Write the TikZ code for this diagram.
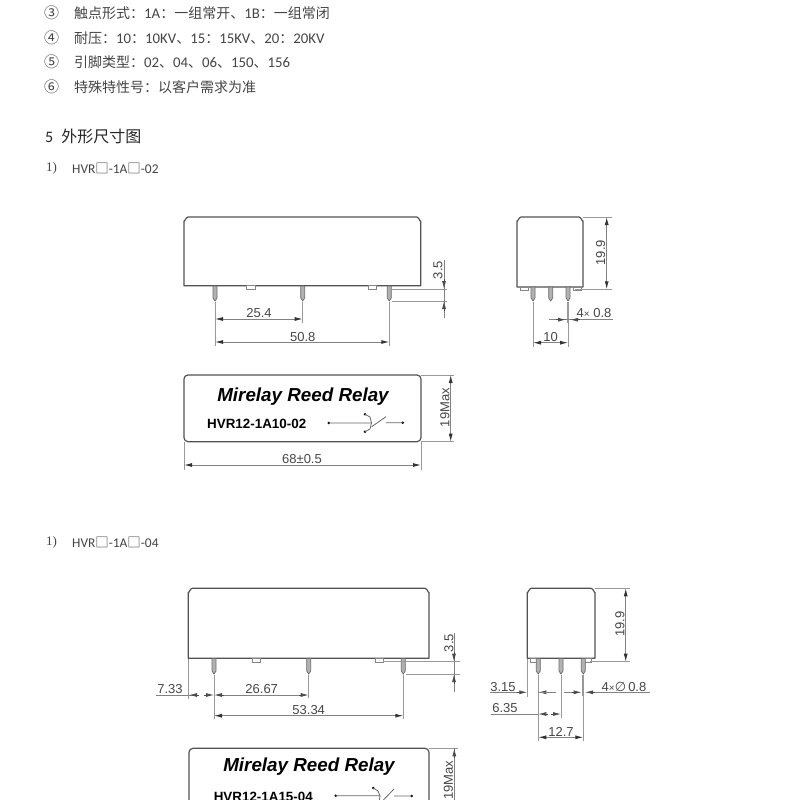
\documentclass[tikz,border=0pt]{standalone}
\usepackage{fontspec}
\setmainfont{Carlito}
\newfontfamily\cjk{Noto Sans CJK SC}
\newfontfamily\arialf{Liberation Sans}
\newfontfamily\serifn{Liberation Serif}
\newfontfamily\dejav{DejaVu Sans}
\newcommand{\lat}[1]{{\normalfont\fontsize{14.8}{16}\selectfont #1}}
\usetikzlibrary{arrows.meta}
\definecolor{txt}{gray}{0.27}
\definecolor{bodyc}{gray}{0.32}
\definecolor{dimc}{gray}{0.6}
\tikzset{
  bodyline/.style={draw=bodyc,line width=1.2pt,line join=round},
  thinbody/.style={draw=bodyc!70,line width=0.8pt},
  extline/.style={draw=dimc,line width=0.9pt},
  dimline/.style={draw=dimc!85!black,line width=0.9pt},
  tipped/.style={draw=black!70,line width=0.8pt,-{Latex[length=8pt,width=4pt]}},
  both tipped/.style={draw=dimc!85!black,line width=0.9pt,{Latex[length=8pt,width=4pt,black!80]}-{Latex[length=8pt,width=4pt,black!80]}},
  dimtext/.style={font=\arialf\fontsize{13}{15}\selectfont,text=black!72,inner sep=0pt},
  listtext/.style={font=\cjk\fontsize{14}{16}\selectfont,text=txt,anchor=west,inner sep=0pt},
  marktext/.style={font=\cjk\fontsize{15}{16}\selectfont,text=txt,inner sep=0pt},
  headtext/.style={font=\cjk\fontsize{16}{18}\selectfont,text=black!85,anchor=west,inner sep=0pt},
  subtext/.style={font=\fontsize{13.4}{15}\selectfont,text=txt,anchor=west,inner sep=0pt},
  titletext/.style={font=\arialf\bfseries\itshape\fontsize{18.8}{20}\selectfont,text=black,inner sep=0pt},
  parttext/.style={font=\arialf\bfseries\fontsize{13.4}{15}\selectfont,text=black,inner sep=0pt},
  symline/.style={draw=black!60,line width=0.8pt},
  symdot/.style={fill=black}
}
\newcommand{\pinat}[3]{%
  \draw[draw=bodyc!85,fill=black!30,line width=0.7pt] (#1-2,#2) -- (#1-2,#3-3) -- (#1,#3) -- (#1+2,#3-3) -- (#1+2,#2) -- cycle;}
\newcommand{\tabat}[3]{%
  \draw[thinbody,fill=white] (#1,#3) rectangle (#2,#3+3.6);}
\newcommand{\relaybody}[4]{%
  \draw[bodyline] (#1,#4) -- (#1,#3+4) to[out=-90,in=180] (#1+4,#3) -- (#2-4,#3) to[out=0,in=-90] (#2,#3+4) -- (#2,#4) -- cycle;}
\begin{document}
\begin{tikzpicture}[x=1pt,y=-1pt]
\useasboundingbox (0,0) rectangle (800,800);
\fill[white] (0,0) rectangle (800,800);
% header list
\node[marktext] (m3) at (51.7,13) {③};
\node[marktext] (m4) at (51.7,38) {④};
\node[marktext] (m5) at (51.7,62) {⑤};
\node[marktext] (m6) at (51.7,87) {⑥};
\node[listtext] (l3) at (74,13) {触点形式：\lat{1A}：一组常开、\lat{1B}：一组常闭};
\node[listtext] (l4) at (74,38) {耐压：\lat{10}：\lat{10KV}、\lat{15}：\lat{15KV}、\lat{20}：\lat{20KV}};
\node[listtext] (l5) at (74,62) {引脚类型：\lat{02}、\lat{04}、\lat{06}、\lat{150}、\lat{156}};
\node[listtext] (l6) at (74,87) {特殊特性号：以客户需求为准};
\node[headtext] (h5) at (45,136) {\normalfont 5\hspace{8pt}\cjk 外形尺寸图};
\node[subtext,font=\serifn\fontsize{13}{15}\selectfont] (n1) at (46,168) {1)};
\node[subtext] (s1) at (72,168) {HVR{\cjk □}-1A{\cjk □}-02};
\node[subtext,font=\serifn\fontsize{13}{15}\selectfont] (n2) at (46,542) {1)};
\node[subtext] (s2) at (72,542) {HVR{\cjk □}-1A{\cjk □}-04};

%% ===== Drawing 1: side view
\relaybody{184}{420.7}{217}{285.7}
\tabat{246.7}{255}{285.7}
\tabat{368}{376}{285.7}
\pinat{215}{286}{301}
\pinat{302.7}{286}{301}
\pinat{389.3}{286}{301}
% 3.5
\draw[extline] (392,289) -- (447,289) (392,301) -- (447,301);
\draw[dimline] (444,260) -- (444,318);
\draw[tipped] (444,279) -- (444,289);
\draw[tipped] (444,311) -- (444,301);
\node[dimtext,rotate=90] (d35a) at (438,270) {3.5};
% 25.4 / 50.8
\draw[extline] (215,302) -- (215,346) (302.7,302) -- (302.7,323) (389.3,302) -- (389.3,346);
\draw[both tipped] (215,319) -- (302.7,319);
\draw[both tipped] (215,342) -- (389.3,342);
\node[dimtext] (d254) at (259,313) {25.4};
\node[dimtext] (d508) at (302.7,336.7) {50.8};

%% ===== Drawing 1: end view
\relaybody{517}{583}{217}{287}
\tabat{520}{528}{287}
\tabat{573}{581}{287}
\pinat{533}{287}{301}
\pinat{550.7}{287}{301}
\pinat{568}{287}{301}
\draw[extline] (583,217) -- (612,217) (575,289.3) -- (612,289.3);
\draw[both tipped] (606.7,217) -- (606.7,289.3);
\node[dimtext] (d199a) [rotate=90] at (600.7,252.7) {19.9};
\draw[extline] (533,302) -- (533,347);
\draw[extline] (568,302) -- (568,347);
\draw[extline,line width=1.6pt] (568,302) -- (568,323);
\draw[dimline] (549,319.7) -- (613,319.7);
\draw[tipped] (556,319.7) -- (566,319.7);
\draw[tipped] (580,319.7) -- (570.2,319.7);
\node[dimtext,fill=white] (d48a) at (594,313.5) {4{\arialf\fontsize{10}{10}\selectfont ×} 0.8};
\draw[both tipped] (533,342.7) -- (568,342.7);
\node[dimtext,fill=white,inner xsep=1pt] (d10) at (550.7,337) {10};

%% ===== Drawing 1: top view
\draw[bodyline,rounded corners=4pt] (184,375) rectangle (421,441.7);
\node[titletext] (t1) at (303,397) {Mirelay Reed Relay};
\node[parttext] (p1) at (256.7,424) {HVR12-1A10-02};
\fill[symdot] (328.7,423) circle (1.4) (365,414.3) circle (1.4) (365,431.7) circle (1.4) (402.7,422.7) circle (1.4);
\draw[symline] (328.7,423) -- (371.5,423) (386,422.7) -- (402.7,422.7) (371.7,426.7) -- (386,416.7);
\draw[symline] (365,414.3) -- (370,417) -- (371.5,423) -- (370,429) -- (365,431.7);
\draw[extline] (421,375) -- (454,375) (421,441.7) -- (454,441.7);
\draw[both tipped] (450.7,375) -- (450.7,441.7);
\node[dimtext] (d19a) [rotate=90] at (445,407.7) {19Max};
\draw[extline] (184,441.7) -- (184,470) (421,441.7) -- (421,470);
\draw[both tipped] (184,465) -- (421,465);
\node[dimtext] (d68) at (302,459) {68±0.5};

%% ===== Drawing 2: side view
\relaybody{188.3}{429}{588.3}{658.3}
\tabat{252}{260}{658.3}
\tabat{375.7}{383.3}{658.3}
\pinat{214}{658.5}{674}
\pinat{308.7}{658.5}{674}
\pinat{403.3}{658.5}{674}
\draw[extline] (383,661.7) -- (460,661.7) (406,674) -- (460,674);
\draw[dimline] (454,633) -- (454,691.7);
\draw[tipped] (454,652) -- (454,661.7);
\draw[tipped] (454,684) -- (454,674);
\node[dimtext] (d35b) [rotate=90] at (449,643) {3.5};
\draw[extline] (188.5,658.5) -- (188.5,699) (214,675) -- (214,719) (308.7,675) -- (308.7,698) (403.3,675) -- (403.3,719);
\draw[dimline] (156,695) -- (199,695);
\draw[tipped] (199,695) -- (189,695);
\draw[tipped] (204,695) -- (214,695);
\draw[tipped] (224,695) -- (214,695);
\draw[dimline] (224,695) -- (300,695);
\draw[tipped] (298.7,695) -- (308.7,695);
\draw[both tipped] (214,715.7) -- (403.3,715.7);
\node[dimtext] (d733) at (170,689) {7.33};
\node[dimtext] (d2667) at (261.7,689) {26.67};
\node[dimtext] (d5334) at (308.7,709.7) {53.34};

%% ===== Drawing 2: end view
\relaybody{527.3}{595}{588.3}{658.3}
\tabat{530.7}{538}{658.3}
\tabat{584}{591.7}{658.3}
\pinat{538.3}{658.5}{674}
\pinat{561}{658.5}{674}
\pinat{583.3}{658.5}{674}
\draw[extline] (595,588.3) -- (630,588.3) (590,661.7) -- (630,661.7);
\draw[both tipped] (625.7,588.3) -- (625.7,661.7);
\node[dimtext] (d199b) [rotate=90] at (620,624.3) {19.9};
\draw[extline] (527.3,658.5) -- (527.3,697) (538.3,675) -- (538.3,740.7) (561,675) -- (561,718) (583.3,675) -- (583.3,740.7);
\draw[extline,line width=2.2pt] (583.3,675) -- (583.3,696);
% row 3.15
\draw[dimline] (490,692.3) -- (518,692.3);
\draw[tipped] (517,692.3) -- (527.3,692.3);
\draw[tipped] (548.3,692.3) -- (538.3,692.3);
\draw[dimline] (538,692.3) -- (556,692.3);
\draw[dimline] (564,692.3) -- (573,692.3);
\draw[tipped] (572,692.3) -- (581.6,692.3);
\draw[tipped] (595,692.3) -- (585,692.3);
\draw[dimline] (595,692.3) -- (650,692.3);
\node[dimtext] (d315) at (503,687) {3.15};
\node[dimtext] (d48b) at (624,686.7) {4{\arialf\fontsize{10}{10}\selectfont ×}{\dejav\fontsize{13}{14}\selectfont ∅}\,0.8};
% row 6.35
\draw[dimline] (490.7,714) -- (538,714);
\draw[tipped] (548.3,714) -- (538.3,714);
\draw[tipped] (551,714) -- (561,714);
\node[dimtext] (d635) at (505,708) {6.35};
\draw[both tipped] (538.3,737.3) -- (583.3,737.3);
\node[dimtext] (d127) at (561,731.7) {12.7};

%% ===== Drawing 2: top view (cut by page edge)
\draw[bodyline,rounded corners=4pt] (189,810) -- (189,748.3) -- (429,748.3) -- (429,810);
\node[titletext] (t2) at (309,766.3) {Mirelay Reed Relay};
\node[parttext] (p2) at (263.3,796.7) {HVR12-1A15-04};
\fill[symdot] (335.7,795.7) circle (1.4) (373.3,788) circle (1.4) (411.7,796) circle (1.4);
\draw[symline] (335.7,795.7) -- (380,795.7) (394,796) -- (411.7,796) (381.7,801.7) -- (394,789);
\draw[symline] (373.3,788) -- (378,791) -- (380,795.7) -- (379,803);
\draw[extline] (429,748.3) -- (458,748.3);
\draw[dimline] (454.3,748.3) -- (454.3,800);
\draw[tipped] (454.3,758) -- (454.3,748.3);
\node[dimtext] (d19b) [rotate=90] at (448.3,780) {19Max};
\end{tikzpicture}
\end{document}
